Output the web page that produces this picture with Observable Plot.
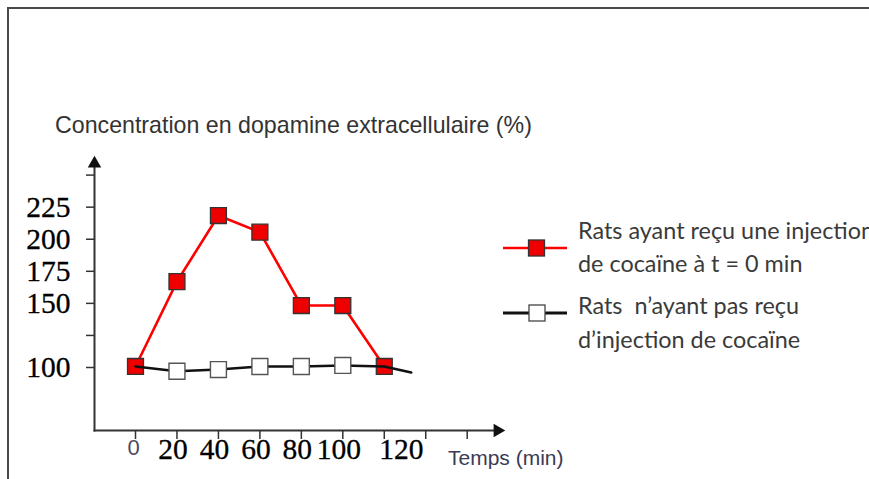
<!DOCTYPE html>
<html><head><meta charset="utf-8">
<script src="https://cdn.jsdelivr.net/npm/d3@7"></script>
<script src="https://cdn.jsdelivr.net/npm/@observablehq/plot@0.6"></script>
<style>
html,body{margin:0;padding:0;background:#fff;overflow:hidden;}
#wrap{position:relative;width:869px;height:479px;overflow:hidden;background:#fff;}
#frame{position:absolute;left:7px;top:7px;width:900px;height:520px;border-top:2px solid #4a4a4a;border-left:2px solid #4a4a4a;}
#chart{position:absolute;left:0;top:0;}
#overlay{position:absolute;left:0;top:0;}
</style></head><body>
<div id="wrap">
  <div id="frame"></div>
  <div id="chart"></div>
  <svg id="overlay" width="869" height="479">
    <text x="55" y="133" font-family="Liberation Sans, Arial, sans-serif" font-size="23.2" fill="#333">Concentration en dopamine extracellulaire (%)</text>
    <text x="448" y="465" font-family="Liberation Sans, Arial, sans-serif" font-size="21" fill="#3b3b55">Temps (min)</text>
    <line x1="503" x2="567" y1="248" y2="248" stroke="#ff0000" stroke-width="2.5"/>
    <rect x="528.5" y="240" width="16" height="16" fill="#ee0000" stroke="#333" stroke-width="1.3"/>
    <line x1="503" x2="567" y1="313" y2="313" stroke="#111" stroke-width="2.8"/>
    <rect x="529" y="305" width="16" height="16" fill="#fff" stroke="#444" stroke-width="1.3"/>
    <g font-family="Lato, sans-serif" font-size="23.4" fill="#3a3a3a">
      <text x="578" y="239">Rats ayant reçu une injection</text>
      <text x="578" y="272">de cocaïne à t = 0 min</text>
      <text x="578" y="314">Rats&#160; n’ayant pas reçu</text>
      <text x="578" y="348">d’injection de cocaïne</text>
    </g>
  </svg>
</div>
<script>
// Data
const times = [0, 20, 40, 60, 80, 100, 120];
const cocaine = [100.8, 167, 218.5, 205.5, 148.3, 148.3, 100.8];
const controlTimes = [0, 20, 40, 60, 80, 100, 120, 133];
const control = [100.8, 97.1, 98.4, 100.8, 100.8, 101.6, 100.8, 96.1];
const xTicks = [0, 20, 40, 60, 80, 100, 120, 140, 160];
const yTicks = [100, 125, 150, 175, 200, 225, 250];
const xLabels = [0, 20, 40, 60, 80, 100, 120];
const yLabels = [100, 150, 175, 200, 225];

const red = times.map((t, i) => ({t, v: cocaine[i]}));
const ctrl = controlTimes.map((t, i) => ({t, v: control[i]}));
const serif = "Liberation Serif, Times New Roman, serif";

const chart = Plot.plot({
  width: 869,
  height: 479,
  marginLeft: 94,
  marginRight: 372,
  marginTop: 163,
  marginBottom: 49,
  style: {background: "transparent", overflow: "visible"},
  x: {domain: [0, 160], range: [135, 466.7], label: null},
  y: {domain: [100, 250], range: [367, 174.6], label: null},
  marks: [
    Plot.frame({anchor: "bottom", stroke: "#333", strokeWidth: 2}),
    Plot.frame({anchor: "left", stroke: "#333", strokeWidth: 2}),
    Plot.dot([0], {frameAnchor: "top-left", symbol: "triangle", r: 5, fill: "#111"}),
    Plot.dot([0], {frameAnchor: "bottom-right", symbol: "triangle", r: 5, fill: "#111", rotate: 90}),
    Plot.axisX(xTicks, {tickSize: 9, tickFormat: () => "", label: null, stroke: "#333", strokeWidth: 1.5}),
    Plot.axisY(yTicks, {tickSize: 8, tickFormat: () => "", label: null, stroke: "#333", strokeWidth: 1.5}),
    Plot.text(xLabels.filter(d => d === 0), {x: d => d, frameAnchor: "bottom", dy: 24, dx: -2, text: d => String(d), fontFamily: "Liberation Sans, Arial, sans-serif", fontSize: 22, fill: "#4f4a5e"}),
    Plot.text(xLabels.filter(d => d > 0 && d < 120), {x: d => d, frameAnchor: "bottom", dy: 28.7, dx: -4, text: d => String(d), fontFamily: serif, fontSize: 29.5, fill: "#000", stroke: "#000", strokeWidth: 0.3}),
    Plot.text(xLabels.filter(d => d === 120), {x: d => d, frameAnchor: "bottom", dy: 28.7, dx: 17, text: d => String(d), fontFamily: serif, fontSize: 29.5, fill: "#000", stroke: "#000", strokeWidth: 0.3}),
    Plot.text(yLabels, {y: d => d, frameAnchor: "left", dx: -24, textAnchor: "end", text: d => String(d), fontFamily: serif, fontSize: 29.5, fill: "#000", stroke: "#000", strokeWidth: 0.3}),
    Plot.line(red, {x: "t", y: "v", stroke: "#ff0000", strokeWidth: 2.6}),
    Plot.dot(red, {x: "t", y: "v", symbol: "square", r: 9, fill: "#ee0000", stroke: "#333", strokeWidth: 1.3}),
    Plot.line(ctrl, {x: "t", y: "v", stroke: "#111", strokeWidth: 2.6}),
    Plot.dot(ctrl.filter(d => d.t > 0 && d.t < 120), {x: "t", y: "v", symbol: "square", r: 9, fill: "#fff", stroke: "#555", strokeWidth: 1.4})
  ]
});
document.getElementById("chart").appendChild(chart);
</script>
</body></html>
